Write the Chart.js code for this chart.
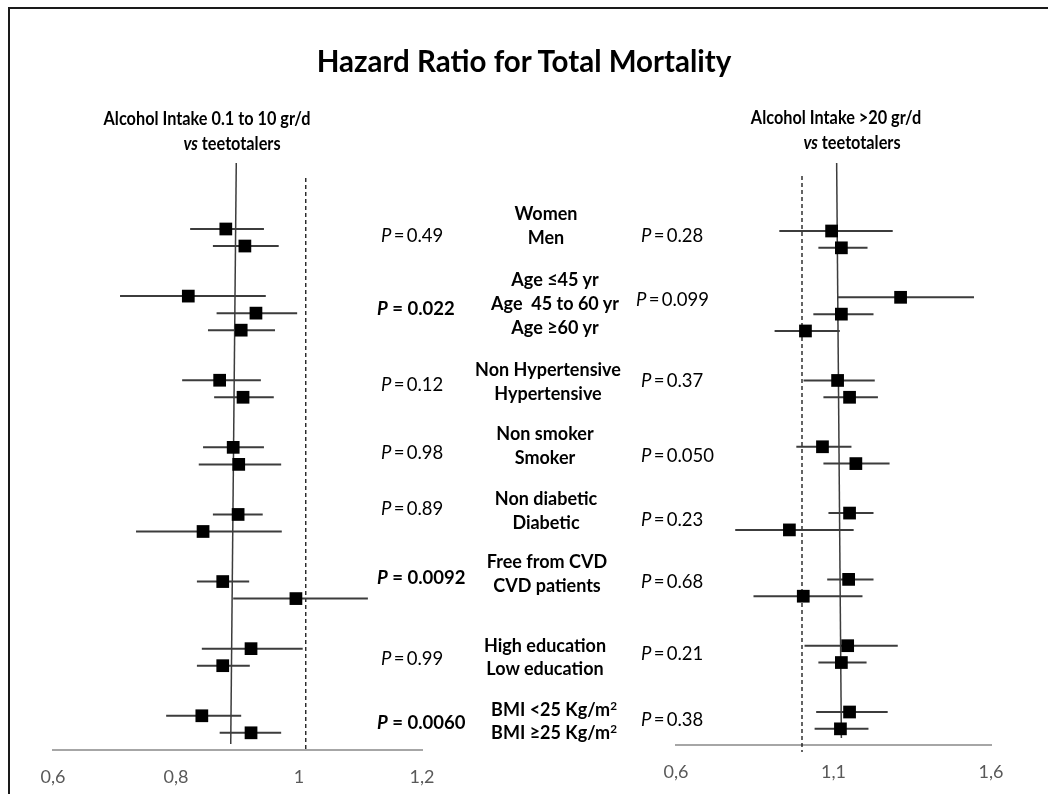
<!DOCTYPE html>
<html>
<head>
<meta charset="utf-8">
<title>Hazard Ratio for Total Mortality</title>
<script src="https://cdn.jsdelivr.net/npm/chart.js"></script>
<style>
  body { margin: 0; background: #fff; font-family: Lato, "Open Sans", sans-serif; }
  #page { position: relative; width: 1048px; height: 794px; overflow: hidden; background: #fff; }
  #frame { position: absolute; left: 8px; top: 7px; width: 1200px; height: 900px;
           border-left: 2px solid #1a1a1a; border-top: 2px solid #1a1a1a; }
  .txt { position: absolute; white-space: nowrap; color: #000; line-height: 1; }
  .c { transform: translate(-50%, -50%); text-align: center; }
  .cs { transform: translate(-50%, -50%) scaleX(0.88); text-align: center; }
  .l { transform: translateY(-50%); }
  .b { font-weight: bold; }
  sup { font-size: 0.65em; line-height: 0; vertical-align: 0.55em; }
  canvas { position: absolute; top: 0; }
</style>
</head>
<body>
<div id="page">
  <div id="frame"></div>
  <canvas id="lowChart" width="524" height="794" style="left:0"></canvas>
  <canvas id="highChart" width="524" height="794" style="left:524px"></canvas>
</div>

<script>
// subgroups, top to bottom
const subgroups = ['Women', 'Men',
  'Age \u226445 yr', 'Age\u00a0 45 to 60 yr', 'Age \u226560 yr',
  'Non Hypertensive', 'Hypertensive',
  'Non smoker', 'Smoker',
  'Non diabetic', 'Diabetic',
  'Free from CVD', 'CVD patients',
  'High education', 'Low education',
  'BMI <25 Kg/m<sup>2</sup>', 'BMI \u226525 Kg/m<sup>2</sup>'];
const groupIndex = [0, 0, 1, 1, 1, 2, 2, 3, 3, 4, 4, 5, 5, 6, 6, 7, 7];

// Alcohol intake 0.1 to 10 g/d vs teetotalers
const lowHR    = [0.881, 0.912, 0.820, 0.930, 0.906, 0.871, 0.909, 0.893, 0.902, 0.901, 0.844, 0.876, 0.995, 0.922, 0.876, 0.842, 0.922];
const lowLower = [0.823, 0.860, 0.709, 0.866, 0.852, 0.810, 0.862, 0.844, 0.837, 0.860, 0.735, 0.834, 0.893, 0.842, 0.834, 0.784, 0.871];
const lowUpper = [0.943, 0.967, 0.946, 0.997, 0.961, 0.938, 0.959, 0.943, 0.971, 0.941, 0.972, 0.919, 1.112, 1.006, 0.920, 0.906, 0.971];
const lowP     = ['0.49', '0.022', '0.12', '0.98', '0.89', '0.0092', '0.99', '0.0060'];
const lowPBold = [false, true, false, false, false, true, false, true];
const lowOverall = [0.898, 0.889];   // pooled HR line, top to bottom
const lowNull = 1.011;
const lowTicks = [0.6, 0.8, 1, 1.2];

// Alcohol intake >20 g/d vs teetotalers
const highHR    = [1.094, 1.125, 1.313, 1.125, 1.011, 1.113, 1.151, 1.065, 1.171, 1.151, 0.960, 1.148, 1.004, 1.145, 1.125, 1.151, 1.122];
const highLower = [0.928, 1.052, 1.113, 1.036, 0.913, 1.005, 1.068, 0.982, 1.068, 1.084, 0.788, 1.080, 0.846, 1.008, 1.052, 1.045, 1.040];
const highUpper = [1.288, 1.208, 1.546, 1.227, 1.120, 1.231, 1.241, 1.157, 1.278, 1.227, 1.164, 1.227, 1.192, 1.304, 1.205, 1.272, 1.211];
const highP     = ['0.28', '0.099', '0.37', '0.050', '0.23', '0.68', '0.21', '0.38'];
const highOverall = [1.110, 1.125];
const highNull = 1.0;
const highTicks = [0.6, 1.1, 1.6];

// vertical position of each row (groups separated by a wider gap)
const rowPos = subgroups.map((s, i) => i + groupIndex[i] * 1.94);

function forest(id, hr, lo, hi, overall, nullX, ticks, lay) {
  const ci = [];
  hr.forEach((v, i) => {
    ci.push({x: lo[i], y: rowPos[i]}, {x: hi[i], y: rowPos[i]}, {x: null, y: null});
  });
  return new Chart(document.getElementById(id), {
    type: 'scatter',
    data: {
      datasets: [
        { // point estimates
          data: hr.map((v, i) => ({x: v, y: rowPos[i]})),
          pointStyle: 'rect', pointRadius: 9, pointHoverRadius: 9,
          backgroundColor: '#000', borderWidth: 0, showLine: false
        },
        { // confidence intervals
          data: ci, showLine: true, spanGaps: false,
          borderColor: '#3c3c3c', borderWidth: 2, pointRadius: 0
        },
        { // pooled HR
          data: [{x: overall[0], y: lay.yMin}, {x: overall[1], y: lay.overallEnd}],
          showLine: true, borderColor: '#3c3c3c', borderWidth: 1.5, pointRadius: 0
        },
        { // HR = 1
          data: [{x: nullX, y: lay.nullStart}, {x: nullX, y: lay.nullEnd}],
          showLine: true, borderColor: '#111', borderWidth: 1.3, borderDash: [4, 3],
          pointRadius: 0, clip: false
        }
      ]
    },
    options: {
      responsive: false,
      animation: false,
      layout: { padding: { left: lay.left, right: lay.right, top: 163, bottom: 0 } },
      plugins: { legend: { display: false }, tooltip: { enabled: false } },
      scales: {
        x: {
          type: 'linear', min: ticks[0], max: ticks[ticks.length - 1],
          afterBuildTicks: s => { s.ticks = ticks.map(v => ({value: v})); },
          afterFit: s => { s.height = lay.axisH; },
          grid: { display: false, drawTicks: false },
          border: { display: true, color: '#a6a6a6', width: 2 },
          ticks: {
            padding: 16, color: '#595959', maxRotation: 0,
            font: { family: 'Lato', size: 18 },
            callback: v => String(Math.round(v * 10) / 10).replace('.', ',')
          }
        },
        y: { type: 'linear', reverse: true, min: lay.yMin, max: lay.yMax, display: false }
      }
    }
  });
}

forest('lowChart', lowHR, lowLower, lowUpper, lowOverall, lowNull, lowTicks,
  { left: 53, right: 102, axisH: 44, yMin: -3.875, yMax: 30.59, overallEnd: 30.24, nullStart: -3.0, nullEnd: 30.59 });
forest('highChart', highHR, highLower, highUpper, highOverall, highNull, highTicks,
  { left: 152, right: 57, axisH: 49, yMin: -4.04, yMax: 30.54, overallEnd: 30.12, nullStart: -3.27, nullEnd: 30.96 });

// text
const page = document.getElementById('page');
function addText(html, x, y, cls, size) {
  const d = document.createElement('div');
  d.className = 'txt ' + cls;
  d.style.left = x + 'px';
  d.style.top = y + 'px';
  d.style.fontSize = size + 'px';
  d.innerHTML = html;
  page.appendChild(d);
  return d;
}

addText('Hazard Ratio for Total Mortality', 524, 61, 'c b', 29.5);
addText('Alcohol Intake 0.1 to 10 gr/d', 207, 118, 'cs b', 18.5);
addText('<i>vs</i> teetotalers', 232, 143, 'cs b', 18.5);
addText('Alcohol Intake &gt;20 gr/d', 836, 117, 'cs b', 18.5);
addText('<i>vs</i> teetotalers', 852, 142, 'cs b', 18.5);

const labelY = [213, 237, 279, 303, 327, 369, 393, 433, 457, 498, 522, 561, 585, 645, 668, 709, 732];
const groupLabelX = [546, 555, 548, 545, 546, 547, 545, 554];
subgroups.forEach((s, i) => addText(s, groupLabelX[groupIndex[i]], labelY[i], 'c b', 18));

const lowPY = [235, 308, 384, 452, 508, 577, 658, 722];
lowP.forEach((p, i) => {
  if (lowPBold[i]) addText('<i>P</i> = ' + p, 377, lowPY[i], 'l b', 18.5);
  else addText('<i>P</i>\u2009=\u2009' + p, 381, lowPY[i], 'l', 18.5);
});
const highPY = [235, 299, 380, 455, 519, 581, 653, 719];
highP.forEach((p, i) => {
  addText('<i>P</i>\u2009=\u2009' + p, i === 1 ? 636 : 641, highPY[i], 'l', 18.5);
});
</script>
</body>
</html>
